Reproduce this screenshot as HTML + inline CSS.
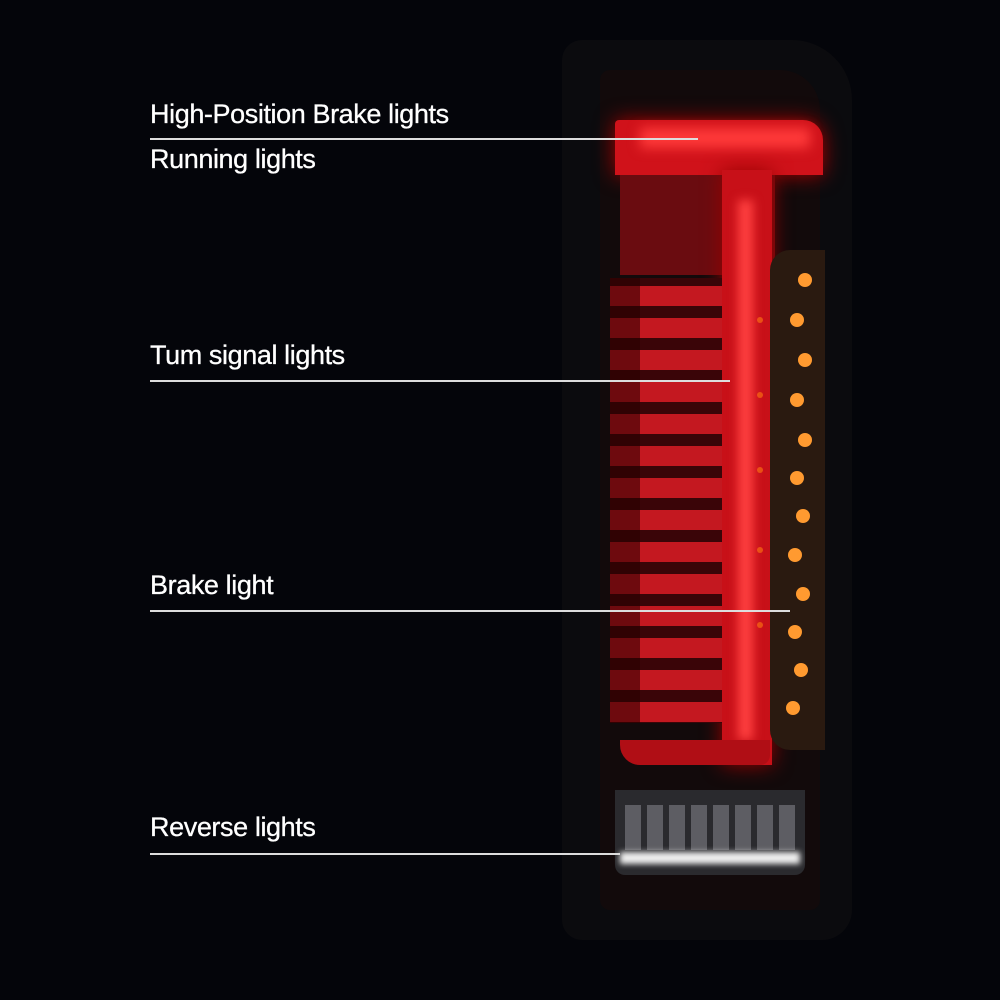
<!DOCTYPE html>
<html><head><meta charset="utf-8"><style>
body{margin:0;width:1000px;height:1000px;background:#04050a;overflow:hidden;position:relative;font-family:"Liberation Sans",sans-serif}
.l{position:absolute;color:#fff;font-size:27px;left:150px;letter-spacing:-0.4px;-webkit-text-stroke:0.3px #fff}
.ln{position:absolute;height:2px;background:#ddd;left:150px}
.a{position:absolute}
</style></head><body>
<div class="a" style="left:562px;top:40px;width:290px;height:900px;background:#0b0b0e;border-radius:20px 60px 30px 20px"></div>
<div class="a" style="left:600px;top:70px;width:220px;height:840px;background:#120a0b;border-radius:10px 40px 10px 10px"></div>
<div class="a" style="left:615px;top:120px;width:208px;height:55px;background:#d0121a;border-radius:4px 20px 0 0;box-shadow:0 0 20px #a00"></div>
<div class="a" style="left:640px;top:128px;width:170px;height:20px;background:#ff3a3a;filter:blur(6px)"></div>
<div class="a" style="left:620px;top:175px;width:155px;height:100px;background:#6a0c10;border-radius:0 0 20px 0"></div>
<div class="a" style="left:722px;top:170px;width:50px;height:595px;background:#c81018;box-shadow:0 0 20px #900"></div>
<div class="a" style="left:738px;top:200px;width:15px;height:540px;background:#ff4040;filter:blur(5px)"></div>
<div class="a" style="left:620px;top:740px;width:150px;height:25px;background:#b00e15;border-radius:0 0 10px 20px"></div>
<div class="a" style="left:610px;top:278px;width:112px;height:445px;background:repeating-linear-gradient(#3a0508 0 8px,#c41820 8px 28px,#3a0508 28px 32px);"></div>
<div class="a" style="left:610px;top:278px;width:30px;height:445px;background:rgba(40,0,0,.55)"></div>
<div class="a" style="left:770px;top:250px;width:55px;height:500px;background:#2a1a10;border-radius:20px 0 0 20px"></div>
<svg class="a" style="left:0;top:0" width="1000" height="1000">
<g fill="#ff9a30">
<circle cx="805" cy="280" r="7"/><circle cx="797" cy="320" r="7"/><circle cx="805" cy="360" r="7"/><circle cx="797" cy="400" r="7"/><circle cx="805" cy="440" r="7"/><circle cx="797" cy="478" r="7"/><circle cx="803" cy="516" r="7"/><circle cx="795" cy="555" r="7"/><circle cx="803" cy="594" r="7"/><circle cx="795" cy="632" r="7"/><circle cx="801" cy="670" r="7"/><circle cx="793" cy="708" r="7"/>
</g>
<g fill="#ff7a10" opacity=".6"><circle cx="760" cy="320" r="3"/><circle cx="760" cy="395" r="3"/><circle cx="760" cy="470" r="3"/><circle cx="760" cy="550" r="3"/><circle cx="760" cy="625" r="3"/></g>
</svg>
<div class="a" style="left:615px;top:790px;width:190px;height:85px;background:#2a2a2e;border-radius:0 0 10px 10px"></div>
<div class="a" style="left:625px;top:805px;width:170px;height:45px;background:repeating-linear-gradient(90deg,#6a6a70 0 16px,#2a2a2e 16px 22px);opacity:.8"></div>
<div class="a" style="left:620px;top:852px;width:180px;height:12px;background:#eee;filter:blur(3px)"></div>
<div class="l" style="top:99px">High-Position Brake lights</div>
<div class="ln" style="top:138px;width:548px"></div>
<div class="l" style="top:144px">Running lights</div>
<div class="l" style="top:340px">Tum signal lights</div>
<div class="ln" style="top:380px;width:580px"></div>
<div class="l" style="top:570px">Brake light</div>
<div class="ln" style="top:610px;width:640px"></div>
<div class="l" style="top:812px">Reverse lights</div>
<div class="ln" style="top:853px;width:470px"></div>
</body></html>
